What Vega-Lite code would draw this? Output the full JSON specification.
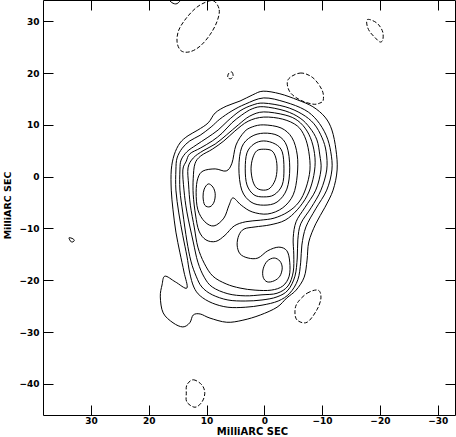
{
"$schema": "https://vega.github.io/schema/vega-lite/v6.json",
"width": 412, "height": 415,
"autosize": {"type": "none"},
"padding": {"left": 43, "top": 0, "right": 1, "bottom": 22},
"config": {"view": {"stroke": null}, "font": "DejaVu Sans"},
"datasets": {
"pos": [
{"c":1,"i":0,"x":0.2,"y":16.5},{"c":1,"i":1,"x":-2.7,"y":16.0},{"c":1,"i":2,"x":-5.8,"y":14.8},{"c":1,"i":3,"x":-8.4,"y":13.5},{"c":1,"i":4,"x":-10.5,"y":11.5},{"c":1,"i":5,"x":-11.7,"y":9.0},{"c":1,"i":6,"x":-12.4,"y":5.2},{"c":1,"i":7,"x":-12.6,"y":1.3},{"c":1,"i":8,"x":-11.9,"y":-2.6},{"c":1,"i":9,"x":-10.5,"y":-5.9},{"c":1,"i":10,"x":-8.9,"y":-9.1},{"c":1,"i":11,"x":-7.7,"y":-12.6},{"c":1,"i":12,"x":-7.4,"y":-16.1},{"c":1,"i":13,"x":-6.9,"y":-19.4},{"c":1,"i":14,"x":-5.5,"y":-21.9},{"c":1,"i":15,"x":-3.9,"y":-23.4},{"c":1,"i":16,"x":-2.2,"y":-25.2},{"c":1,"i":17,"x":0.7,"y":-26.7},{"c":1,"i":18,"x":3.7,"y":-27.7},{"c":1,"i":19,"x":6.5,"y":-28.1},{"c":1,"i":20,"x":9.4,"y":-27.3},{"c":1,"i":21,"x":11.1,"y":-26.5},{"c":1,"i":22,"x":12.3,"y":-26.7},{"c":1,"i":23,"x":12.9,"y":-28.2},{"c":1,"i":24,"x":14.1,"y":-29.0},{"c":1,"i":25,"x":15.8,"y":-28.2},{"c":1,"i":26,"x":17.5,"y":-26.3},{"c":1,"i":27,"x":18.0,"y":-23.2},{"c":1,"i":28,"x":17.7,"y":-20.9},{"c":1,"i":29,"x":17.2,"y":-19.2},{"c":1,"i":30,"x":15.4,"y":-20.3},{"c":1,"i":31,"x":13.4,"y":-21.5},{"c":1,"i":32,"x":13.9,"y":-18.4},{"c":1,"i":33,"x":14.6,"y":-14.7},{"c":1,"i":34,"x":15.3,"y":-10.7},{"c":1,"i":35,"x":15.8,"y":-6.4},{"c":1,"i":36,"x":16.1,"y":-2.6},{"c":1,"i":37,"x":16.1,"y":1.3},{"c":1,"i":38,"x":15.6,"y":4.2},{"c":1,"i":39,"x":14.6,"y":6.5},{"c":1,"i":40,"x":13.2,"y":7.9},{"c":1,"i":41,"x":11.5,"y":9.0},{"c":1,"i":42,"x":9.7,"y":10.4},{"c":1,"i":43,"x":8.5,"y":12.3},{"c":1,"i":44,"x":6.6,"y":13.6},{"c":1,"i":45,"x":4.2,"y":14.6},{"c":1,"i":46,"x":2.0,"y":15.8},
{"c":2,"i":0,"x":0.1,"y":15.2},{"c":2,"i":1,"x":-3.6,"y":14.4},{"c":2,"i":2,"x":-7.0,"y":12.9},{"c":2,"i":3,"x":-9.1,"y":10.9},{"c":2,"i":4,"x":-10.7,"y":8.0},{"c":2,"i":5,"x":-11.5,"y":4.8},{"c":2,"i":6,"x":-11.7,"y":1.3},{"c":2,"i":7,"x":-10.8,"y":-2.6},{"c":2,"i":8,"x":-8.9,"y":-6.2},{"c":2,"i":9,"x":-7.2,"y":-9.7},{"c":2,"i":10,"x":-6.5,"y":-13.2},{"c":2,"i":11,"x":-6.3,"y":-16.5},{"c":2,"i":12,"x":-5.8,"y":-19.9},{"c":2,"i":13,"x":-4.4,"y":-22.5},{"c":2,"i":14,"x":-2.4,"y":-24.0},{"c":2,"i":15,"x":0.4,"y":-24.8},{"c":2,"i":16,"x":3.3,"y":-25.2},{"c":2,"i":17,"x":6.3,"y":-25.2},{"c":2,"i":18,"x":9.0,"y":-24.4},{"c":2,"i":19,"x":11.1,"y":-23.0},{"c":2,"i":20,"x":12.2,"y":-21.3},{"c":2,"i":21,"x":12.9,"y":-18.6},{"c":2,"i":22,"x":13.4,"y":-15.3},{"c":2,"i":23,"x":14.1,"y":-11.4},{"c":2,"i":24,"x":14.8,"y":-7.0},{"c":2,"i":25,"x":15.3,"y":-2.6},{"c":2,"i":26,"x":15.3,"y":1.3},{"c":2,"i":27,"x":15.1,"y":3.6},{"c":2,"i":28,"x":14.2,"y":5.5},{"c":2,"i":29,"x":12.9,"y":6.9},{"c":2,"i":30,"x":11.1,"y":8.0},{"c":2,"i":31,"x":9.2,"y":9.6},{"c":2,"i":32,"x":7.7,"y":11.1},{"c":2,"i":33,"x":5.6,"y":12.7},{"c":2,"i":34,"x":3.3,"y":14.0},
{"c":3,"i":0,"x":0.1,"y":14.2},{"c":3,"i":1,"x":-3.6,"y":13.5},{"c":3,"i":2,"x":-6.5,"y":12.1},{"c":3,"i":3,"x":-8.6,"y":10.2},{"c":3,"i":4,"x":-10.0,"y":7.5},{"c":3,"i":5,"x":-10.7,"y":4.8},{"c":3,"i":6,"x":-10.8,"y":1.3},{"c":3,"i":7,"x":-9.8,"y":-2.6},{"c":3,"i":8,"x":-8.1,"y":-6.0},{"c":3,"i":9,"x":-6.3,"y":-9.1},{"c":3,"i":10,"x":-5.8,"y":-12.2},{"c":3,"i":11,"x":-5.7,"y":-15.7},{"c":3,"i":12,"x":-5.3,"y":-19.2},{"c":3,"i":13,"x":-4.1,"y":-21.9},{"c":3,"i":14,"x":-2.2,"y":-23.2},{"c":3,"i":15,"x":0.4,"y":-23.8},{"c":3,"i":16,"x":3.3,"y":-24.0},{"c":3,"i":17,"x":6.3,"y":-23.8},{"c":3,"i":18,"x":9.0,"y":-22.8},{"c":3,"i":19,"x":10.8,"y":-21.3},{"c":3,"i":20,"x":11.8,"y":-19.2},{"c":3,"i":21,"x":12.7,"y":-16.3},{"c":3,"i":22,"x":13.4,"y":-12.4},{"c":3,"i":23,"x":14.1,"y":-7.0},{"c":3,"i":24,"x":14.6,"y":-2.6},{"c":3,"i":25,"x":14.6,"y":1.3},{"c":3,"i":26,"x":14.4,"y":3.2},{"c":3,"i":27,"x":13.4,"y":4.8},{"c":3,"i":28,"x":11.8,"y":6.1},{"c":3,"i":29,"x":9.9,"y":7.5},{"c":3,"i":30,"x":8.0,"y":9.0},{"c":3,"i":31,"x":6.3,"y":10.8},{"c":3,"i":32,"x":4.2,"y":12.7},{"c":3,"i":33,"x":2.1,"y":13.8},
{"c":4,"i":0,"x":0.1,"y":13.5},{"c":4,"i":1,"x":-3.6,"y":12.7},{"c":4,"i":2,"x":-6.2,"y":11.3},{"c":4,"i":3,"x":-7.9,"y":9.4},{"c":4,"i":4,"x":-9.1,"y":7.1},{"c":4,"i":5,"x":-9.6,"y":4.2},{"c":4,"i":6,"x":-9.8,"y":1.3},{"c":4,"i":7,"x":-8.9,"y":-2.6},{"c":4,"i":8,"x":-7.0,"y":-6.0},{"c":4,"i":9,"x":-5.5,"y":-8.7},{"c":4,"i":10,"x":-5.0,"y":-11.8},{"c":4,"i":11,"x":-5.1,"y":-15.1},{"c":4,"i":12,"x":-5.0,"y":-18.4},{"c":4,"i":13,"x":-4.1,"y":-21.1},{"c":4,"i":14,"x":-2.2,"y":-22.5},{"c":4,"i":15,"x":0.4,"y":-22.8},{"c":4,"i":16,"x":3.3,"y":-23.0},{"c":4,"i":17,"x":6.3,"y":-22.6},{"c":4,"i":18,"x":9.0,"y":-21.3},{"c":4,"i":19,"x":10.4,"y":-19.4},{"c":4,"i":20,"x":11.5,"y":-16.5},{"c":4,"i":21,"x":12.3,"y":-12.6},{"c":4,"i":22,"x":13.4,"y":-6.8},{"c":4,"i":23,"x":13.9,"y":-2.6},{"c":4,"i":24,"x":14.1,"y":1.3},{"c":4,"i":25,"x":13.5,"y":3.0},{"c":4,"i":26,"x":12.9,"y":4.4},{"c":4,"i":27,"x":11.1,"y":5.5},{"c":4,"i":28,"x":9.0,"y":6.9},{"c":4,"i":29,"x":7.3,"y":8.4},{"c":4,"i":30,"x":5.6,"y":10.4},{"c":4,"i":31,"x":3.9,"y":11.9},{"c":4,"i":32,"x":2.1,"y":13.1},
{"c":5,"i":0,"x":0.1,"y":12.5},{"c":5,"i":1,"x":-3.6,"y":11.9},{"c":5,"i":2,"x":-5.8,"y":10.8},{"c":5,"i":3,"x":-7.4,"y":8.8},{"c":5,"i":4,"x":-8.4,"y":6.1},{"c":5,"i":5,"x":-8.8,"y":2.8},{"c":5,"i":6,"x":-8.4,"y":-0.6},{"c":5,"i":7,"x":-7.4,"y":-3.7},{"c":5,"i":8,"x":-5.7,"y":-6.4},{"c":5,"i":9,"x":-3.6,"y":-8.4},{"c":5,"i":10,"x":-1.0,"y":-9.3},{"c":5,"i":11,"x":1.6,"y":-9.7},{"c":5,"i":12,"x":3.5,"y":-10.1},{"c":5,"i":13,"x":4.4,"y":-11.3},{"c":5,"i":14,"x":4.7,"y":-13.2},{"c":5,"i":15,"x":4.2,"y":-14.9},{"c":5,"i":16,"x":2.8,"y":-15.7},{"c":5,"i":17,"x":1.1,"y":-15.7},{"c":5,"i":18,"x":-0.6,"y":-14.3},{"c":5,"i":19,"x":-2.5,"y":-13.6},{"c":5,"i":20,"x":-3.9,"y":-14.3},{"c":5,"i":21,"x":-4.4,"y":-16.5},{"c":5,"i":22,"x":-4.3,"y":-19.2},{"c":5,"i":23,"x":-3.2,"y":-21.1},{"c":5,"i":24,"x":-1.2,"y":-21.9},{"c":5,"i":25,"x":1.6,"y":-21.9},{"c":5,"i":26,"x":4.2,"y":-21.5},{"c":5,"i":27,"x":6.6,"y":-20.7},{"c":5,"i":28,"x":8.9,"y":-19.2},{"c":5,"i":29,"x":10.4,"y":-16.7},{"c":5,"i":30,"x":11.5,"y":-13.6},{"c":5,"i":31,"x":12.1,"y":-9.9},{"c":5,"i":32,"x":12.8,"y":-5.5},{"c":5,"i":33,"x":13.1,"y":-1.6},{"c":5,"i":34,"x":13.2,"y":1.7},{"c":5,"i":35,"x":12.3,"y":3.6},{"c":5,"i":36,"x":10.6,"y":5.0},{"c":5,"i":37,"x":8.5,"y":6.3},{"c":5,"i":38,"x":6.5,"y":8.1},{"c":5,"i":39,"x":4.5,"y":10.0},{"c":5,"i":40,"x":2.5,"y":11.7},
{"c":6,"i":0,"x":0.1,"y":11.5},{"c":6,"i":1,"x":-3.2,"y":11.1},{"c":6,"i":2,"x":-5.7,"y":9.8},{"c":6,"i":3,"x":-7.0,"y":7.7},{"c":6,"i":4,"x":-7.7,"y":4.8},{"c":6,"i":5,"x":-7.9,"y":1.3},{"c":6,"i":6,"x":-7.2,"y":-2.2},{"c":6,"i":7,"x":-6.0,"y":-4.9},{"c":6,"i":8,"x":-4.1,"y":-6.8},{"c":6,"i":9,"x":-1.7,"y":-8.0},{"c":6,"i":10,"x":0.7,"y":-8.4},{"c":6,"i":11,"x":3.2,"y":-8.7},{"c":6,"i":12,"x":5.2,"y":-9.5},{"c":6,"i":13,"x":6.8,"y":-11.3},{"c":6,"i":14,"x":8.4,"y":-12.5},{"c":6,"i":15,"x":10.1,"y":-12.2},{"c":6,"i":16,"x":11.3,"y":-10.5},{"c":6,"i":17,"x":11.9,"y":-7.4},{"c":6,"i":18,"x":12.3,"y":-3.5},{"c":6,"i":19,"x":12.3,"y":-0.3},{"c":6,"i":20,"x":12.0,"y":2.5},{"c":6,"i":21,"x":11.0,"y":4.0},{"c":6,"i":22,"x":9.0,"y":5.3},{"c":6,"i":23,"x":7.0,"y":6.9},{"c":6,"i":24,"x":5.1,"y":8.8},{"c":6,"i":25,"x":2.8,"y":10.7},
{"c":7,"i":0,"x":0.1,"y":10.0},{"c":7,"i":1,"x":-2.9,"y":9.4},{"c":7,"i":2,"x":-4.8,"y":7.5},{"c":7,"i":3,"x":-5.7,"y":4.2},{"c":7,"i":4,"x":-5.7,"y":0.3},{"c":7,"i":5,"x":-5.0,"y":-3.5},{"c":7,"i":6,"x":-3.2,"y":-6.0},{"c":7,"i":7,"x":-0.6,"y":-7.2},{"c":7,"i":8,"x":2.1,"y":-6.8},{"c":7,"i":9,"x":4.0,"y":-5.5},{"c":7,"i":10,"x":5.4,"y":-4.1},{"c":7,"i":11,"x":6.1,"y":-5.5},{"c":7,"i":12,"x":7.0,"y":-8.0},{"c":7,"i":13,"x":8.7,"y":-9.5},{"c":7,"i":14,"x":10.3,"y":-8.7},{"c":7,"i":15,"x":11.5,"y":-6.4},{"c":7,"i":16,"x":11.8,"y":-3.0},{"c":7,"i":17,"x":11.5,"y":-0.3},{"c":7,"i":18,"x":10.6,"y":1.1},{"c":7,"i":19,"x":8.5,"y":1.5},{"c":7,"i":20,"x":6.6,"y":1.1},{"c":7,"i":21,"x":5.6,"y":2.6},{"c":7,"i":22,"x":4.9,"y":6.1},{"c":7,"i":23,"x":3.5,"y":8.6},{"c":7,"i":24,"x":2.1,"y":9.6},
{"c":8,"i":0,"x":0.1,"y":8.4},{"c":8,"i":1,"x":-2.4,"y":7.9},{"c":8,"i":2,"x":-3.9,"y":5.9},{"c":8,"i":3,"x":-4.4,"y":1.7},{"c":8,"i":4,"x":-3.9,"y":-2.4},{"c":8,"i":5,"x":-2.2,"y":-4.9},{"c":8,"i":6,"x":0.1,"y":-5.5},{"c":8,"i":7,"x":2.3,"y":-4.9},{"c":8,"i":8,"x":3.9,"y":-2.6},{"c":8,"i":9,"x":4.4,"y":1.7},{"c":8,"i":10,"x":3.9,"y":5.7},{"c":8,"i":11,"x":2.3,"y":7.7},
{"c":9,"i":0,"x":0.1,"y":6.9},{"c":9,"i":1,"x":-1.9,"y":6.3},{"c":9,"i":2,"x":-3.1,"y":4.8},{"c":9,"i":3,"x":-3.4,"y":1.5},{"c":9,"i":4,"x":-3.1,"y":-1.6},{"c":9,"i":5,"x":-1.7,"y":-3.5},{"c":9,"i":6,"x":0.1,"y":-3.9},{"c":9,"i":7,"x":1.8,"y":-3.5},{"c":9,"i":8,"x":3.0,"y":-1.6},{"c":9,"i":9,"x":3.3,"y":1.5},{"c":9,"i":10,"x":3.0,"y":4.6},{"c":9,"i":11,"x":1.8,"y":6.3},
{"c":10,"i":0,"x":0.1,"y":5.3},{"c":10,"i":1,"x":-1.3,"y":5.0},{"c":10,"i":2,"x":-2.0,"y":3.6},{"c":10,"i":3,"x":-2.2,"y":1.5},{"c":10,"i":4,"x":-1.9,"y":-0.6},{"c":10,"i":5,"x":-1.0,"y":-2.2},{"c":10,"i":6,"x":0.1,"y":-2.6},{"c":10,"i":7,"x":1.3,"y":-2.2},{"c":10,"i":8,"x":2.0,"y":-0.8},{"c":10,"i":9,"x":2.3,"y":1.5},{"c":10,"i":10,"x":2.0,"y":3.6},{"c":10,"i":11,"x":1.3,"y":5.0},
{"c":11,"i":0,"x":9.7,"y":-1.4},{"c":11,"i":1,"x":8.9,"y":-2.0},{"c":11,"i":2,"x":8.5,"y":-3.3},{"c":11,"i":3,"x":8.7,"y":-4.9},{"c":11,"i":4,"x":9.4,"y":-5.8},{"c":11,"i":5,"x":10.3,"y":-5.5},{"c":11,"i":6,"x":10.6,"y":-3.9},{"c":11,"i":7,"x":10.4,"y":-2.4},
{"c":12,"i":0,"x":-1.7,"y":-15.7},{"c":12,"i":1,"x":-2.7,"y":-16.3},{"c":12,"i":2,"x":-3.1,"y":-17.6},{"c":12,"i":3,"x":-2.7,"y":-19.2},{"c":12,"i":4,"x":-1.7,"y":-20.1},{"c":12,"i":5,"x":-0.5,"y":-20.3},{"c":12,"i":6,"x":0.2,"y":-19.4},{"c":12,"i":7,"x":0.2,"y":-17.8},{"c":12,"i":8,"x":-0.5,"y":-16.3},
{"c":13,"i":0,"x":33.8,"y":-11.8},{"c":13,"i":1,"x":33.1,"y":-12.0},{"c":13,"i":2,"x":32.9,"y":-12.4},{"c":13,"i":3,"x":33.4,"y":-12.6},
{"c":14,"i":0,"x":16.5,"y":34.5},{"c":14,"i":1,"x":16.0,"y":33.6},{"c":14,"i":2,"x":15.1,"y":33.4},{"c":14,"i":3,"x":14.4,"y":34.5}
],
"neg": [
{"c":21,"i":0,"x":8.7,"y":33.9},{"c":21,"i":1,"x":7.8,"y":32.2},{"c":21,"i":2,"x":8.2,"y":29.9},{"c":21,"i":3,"x":9.4,"y":27.4},{"c":21,"i":4,"x":11.1,"y":25.2},{"c":21,"i":5,"x":12.9,"y":24.1},{"c":21,"i":6,"x":14.4,"y":24.3},{"c":21,"i":7,"x":15.1,"y":26.0},{"c":21,"i":8,"x":14.8,"y":28.3},{"c":21,"i":9,"x":13.5,"y":30.6},{"c":21,"i":10,"x":11.8,"y":32.6},{"c":21,"i":11,"x":10.1,"y":33.7},
{"c":22,"i":0,"x":-17.8,"y":30.3},{"c":22,"i":1,"x":-18.8,"y":30.1},{"c":22,"i":2,"x":-19.8,"y":29.3},{"c":22,"i":3,"x":-20.5,"y":27.9},{"c":22,"i":4,"x":-20.5,"y":26.4},{"c":22,"i":5,"x":-20.0,"y":26.0},{"c":22,"i":6,"x":-19.2,"y":26.8},{"c":22,"i":7,"x":-18.3,"y":27.9},{"c":22,"i":8,"x":-17.8,"y":29.1},
{"c":23,"i":0,"x":-4.1,"y":18.7},{"c":23,"i":1,"x":-6.2,"y":20.0},{"c":23,"i":2,"x":-8.4,"y":19.1},{"c":23,"i":3,"x":-10.0,"y":16.7},{"c":23,"i":4,"x":-10.2,"y":14.8},{"c":23,"i":5,"x":-9.6,"y":14.2},{"c":23,"i":6,"x":-8.4,"y":14.0},{"c":23,"i":7,"x":-6.2,"y":14.8},{"c":23,"i":8,"x":-4.4,"y":16.4},
{"c":24,"i":0,"x":6.1,"y":20.0},{"c":24,"i":1,"x":5.6,"y":20.2},{"c":24,"i":2,"x":5.4,"y":19.4},{"c":24,"i":3,"x":5.8,"y":18.9},{"c":24,"i":4,"x":6.3,"y":19.1},{"c":24,"i":5,"x":6.3,"y":19.6},
{"c":25,"i":0,"x":-5.7,"y":-24.4},{"c":25,"i":1,"x":-7.4,"y":-22.5},{"c":25,"i":2,"x":-9.3,"y":-21.9},{"c":25,"i":3,"x":-9.8,"y":-23.4},{"c":25,"i":4,"x":-9.1,"y":-25.7},{"c":25,"i":5,"x":-7.4,"y":-28.1},{"c":25,"i":6,"x":-5.7,"y":-27.7},{"c":25,"i":7,"x":-5.3,"y":-26.1},
{"c":26,"i":0,"x":13.4,"y":-40.2},{"c":26,"i":1,"x":12.3,"y":-39.2},{"c":26,"i":2,"x":10.8,"y":-40.2},{"c":26,"i":3,"x":10.3,"y":-41.8},{"c":26,"i":4,"x":10.8,"y":-43.5},{"c":26,"i":5,"x":12.0,"y":-44.5},{"c":26,"i":6,"x":13.4,"y":-43.5},{"c":26,"i":7,"x":13.5,"y":-41.8}
]
},
"layer": [
{
"data": {"name": "pos"},
"mark": {"type": "line", "interpolate": "cardinal-closed", "color": "#000000", "strokeWidth": 1, "clip": true},
"encoding": {
"x": {"field": "x", "type": "quantitative",
"scale": {"domain": [38.3, -33.0], "nice": false, "zero": false},
"axis": {"orient": "bottom", "values": [30, 20, 10, 0, -10, -20, -30], "tickSize": -10, "tickColor": "#000000", "domainColor": "#000000", "grid": false, "labelPadding": 11, "labelFont": "DejaVu Sans", "labelFontWeight": "bold", "labelFontSize": 9, "labelColor": "#000000", "title": "MilliARC SEC", "titleFont": "DejaVu Sans", "titleFontWeight": "bold", "titleFontSize": 10, "titleColor": "#000000", "titleX": 209, "titleY": 19.5, "titleBaseline": "alphabetic"}},
"y": {"field": "y", "type": "quantitative",
"scale": {"domain": [-46.0, 34.1], "nice": false, "zero": false},
"axis": {"orient": "left", "values": [30, 20, 10, 0, -10, -20, -30, -40], "tickSize": -10, "tickColor": "#000000", "domainColor": "#000000", "grid": false, "labelPadding": 14, "labelFont": "DejaVu Sans", "labelFontWeight": "bold", "labelFontSize": 9, "labelColor": "#000000", "title": "MilliARC SEC", "titleFont": "DejaVu Sans", "titleFontWeight": "bold", "titleFontSize": 9.5, "titleColor": "#000000", "titleX": -32.5, "titleY": 205, "titleBaseline": "alphabetic"}},
"detail": {"field": "c", "type": "nominal"},
"order": {"field": "i", "type": "quantitative"}
}
},
{
"data": {"name": "neg"},
"mark": {"type": "line", "interpolate": "cardinal-closed", "color": "#000000", "strokeWidth": 1, "strokeDash": [4, 2], "clip": true},
"encoding": {
"x": {"field": "x", "type": "quantitative",
"axis": {"orient": "top", "values": [30, 20, 10, 0, -10, -20, -30], "tickSize": -10, "tickColor": "#000000", "domainColor": "#000000", "grid": false, "labels": false, "title": null}},
"y": {"field": "y", "type": "quantitative",
"axis": {"orient": "right", "values": [30, 20, 10, 0, -10, -20, -30, -40], "tickSize": -10, "tickColor": "#000000", "domainColor": "#000000", "grid": false, "labels": false, "title": null}},
"detail": {"field": "c", "type": "nominal"},
"order": {"field": "i", "type": "quantitative"}
}
}
]
}
